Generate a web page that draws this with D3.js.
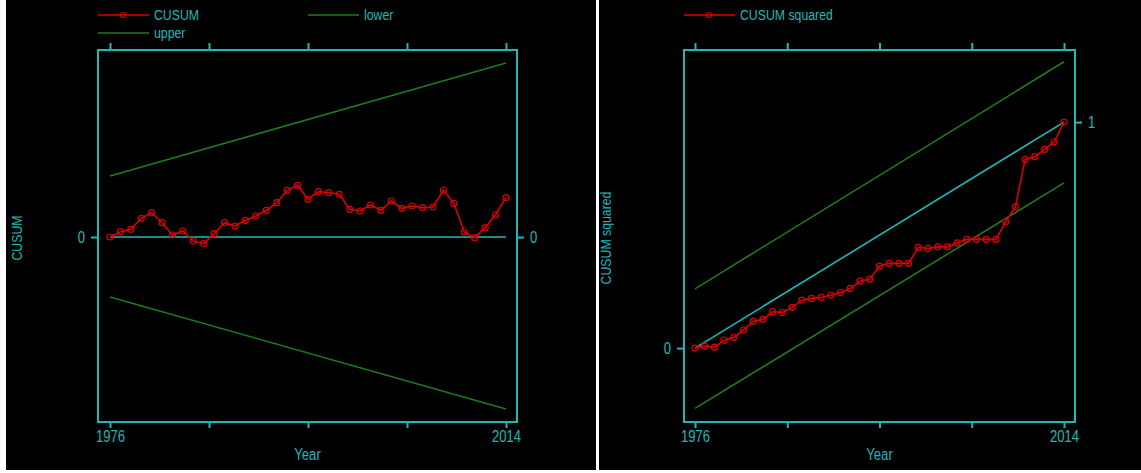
<!DOCTYPE html>
<html>
<head>
<meta charset="utf-8">
<script src="https://cdn.jsdelivr.net/npm/d3@7"></script>
<style>
  body { margin: 0; background: #fff; }
  text { font-family: "Liberation Sans", Arial, sans-serif; fill: #1fb8b8; }
</style>
</head>
<body>
<div id="chart"></div>
<script>
// Data
const years = [1976, 1977, 1978, 1979, 1980, 1981, 1982, 1983, 1984, 1985,
               1986, 1987, 1988, 1989, 1990, 1991, 1992, 1993, 1994, 1995,
               1996, 1997, 1998, 1999, 2000, 2001, 2002, 2003, 2004, 2005,
               2006, 2007, 2008, 2009, 2010, 2011, 2012, 2013, 2014];

const cusum = [0, 0.53, 0.77, 1.87, 2.43, 1.43, 0.2, 0.6, -0.4, -0.67,
               0.33, 1.43, 1.1, 1.67, 2.1, 2.67, 3.43, 4.67, 5.17, 3.77,
               4.53, 4.43, 4.27, 2.77, 2.6, 3.2, 2.67, 3.6, 2.87, 3.1,
               2.93, 3.0, 4.7, 3.37, 0.5, -0.07, 0.93, 2.2, 3.93];

const cusumSq = [0, 0.009, 0.004, 0.035, 0.047, 0.080, 0.119, 0.127, 0.161, 0.158,
                 0.180, 0.212, 0.220, 0.224, 0.235, 0.246, 0.264, 0.296, 0.305, 0.363,
                 0.375, 0.375, 0.375, 0.446, 0.441, 0.448, 0.448, 0.466, 0.481, 0.481,
                 0.481, 0.481, 0.559, 0.625, 0.835, 0.847, 0.879, 0.913, 1.0];

// straight lines: value at first and last year
const endYears = [1976, 2014];
const cusumUpper = [6.1, 17.4];
const cusumLower = [-6.0, -17.2];
const cusumZero = [0, 0];
const sqExpected = [0, 1];
const sqUpper = [0.262, 1.267];
const sqLower = [-0.267, 0.731];

const xTicks = [1976, 1985.5, 1995, 2004.5, 2014];
const xLabels = [1976, 2014];

const cyan = "#1fb8b8", red = "#dc0000", green = "#1f7a1f";
const SX = 0.82; // narrow font look

const W = 1141, H = 473;
const svg = d3.select("#chart").append("svg")
    .attr("width", W).attr("height", H);

// black panels
svg.append("rect").attr("x", 6).attr("y", 0).attr("width", 590).attr("height", 470).attr("fill", "#000");
svg.append("rect").attr("x", 599).attr("y", 0).attr("width", W - 599).attr("height", 470).attr("fill", "#000");

function panel(opt) {
    const g = svg.append("g");
    const x = d3.scaleLinear().domain([1976, 2014]).range(opt.xr);
    const y = d3.scaleLinear().domain(opt.yd).range([422, 50]);
    const f = opt.frame;

    // frame
    g.append("rect")
        .attr("x", f[0]).attr("y", 50)
        .attr("width", f[1] - f[0]).attr("height", 372)
        .attr("fill", "none").attr("stroke", cyan).attr("stroke-width", 2);

    // x axes (bottom labelled, top ticks only)
    const bottom = g.append("g").attr("transform", "translate(0,422)")
        .call(d3.axisBottom(x).tickValues(xTicks).tickSize(6).tickPadding(3)
            .tickFormat(d => xLabels.includes(d) ? d : ""));
    const top = g.append("g").attr("transform", "translate(0,50)")
        .call(d3.axisTop(x).tickValues(xTicks).tickSize(7).tickFormat(""));

    // y axes
    const left = g.append("g").attr("transform", `translate(${f[0]},0)`)
        .call(d3.axisLeft(y).tickValues(opt.leftTicks).tickSize(7).tickPadding(6).tickFormat(d => d));
    const right = g.append("g").attr("transform", `translate(${f[1]},0)`)
        .call(d3.axisRight(y).tickValues(opt.rightTicks).tickSize(7).tickPadding(6).tickFormat(d => d));

    [bottom, top, left, right].forEach(a => {
        a.select(".domain").remove();
        a.selectAll("line").attr("stroke", cyan).attr("stroke-width", 2);
        a.selectAll("text").attr("font-size", 16).style("fill", cyan)
            .style("font-family", '"Liberation Sans", Arial, sans-serif')
            .attr("x", function() { return (+d3.select(this).attr("x") || 0) / SX; })
            .attr("transform", `scale(${SX},1)`);
    });

    const line = d3.line().x(d => x(d[0])).y(d => y(d[1]));

    opt.straight.forEach(s => {
        g.append("path")
            .attr("d", line(endYears.map((yr, i) => [yr, s.v[i]])))
            .attr("fill", "none").attr("stroke", s.color).attr("stroke-width", 1.6);
    });

    const pts = years.map((yr, i) => [yr, opt.series[i]]);
    g.append("path").attr("d", line(pts))
        .attr("fill", "none").attr("stroke", red).attr("stroke-width", 1.6);
    g.selectAll(".pt").data(pts).enter().append("circle")
        .attr("cx", d => x(d[0])).attr("cy", d => y(d[1])).attr("r", 3)
        .attr("fill", "none").attr("stroke", red).attr("stroke-width", 1.2);

    // titles
    g.append("text").attr("transform", `translate(${(f[0] + f[1]) / 2},460) scale(${SX},1)`)
        .attr("text-anchor", "middle").attr("font-size", 16).text("Year");
    g.append("text").attr("transform", `translate(${opt.ytitleX},238) rotate(-90) scale(${SX},1)`)
        .attr("text-anchor", "middle").attr("font-size", 15).text(opt.ytitle);

    // legend
    opt.legend.forEach(l => {
        const lg = g.append("g").attr("transform", `translate(${l.x},${l.y})`);
        lg.append("line").attr("x1", 0).attr("x2", 51).attr("y1", 0).attr("y2", 0)
            .attr("stroke", l.color).attr("stroke-width", 1.6);
        if (l.marker) lg.append("circle").attr("cx", 25).attr("cy", 0).attr("r", 2.5)
            .attr("fill", "none").attr("stroke", l.color).attr("stroke-width", 1.2);
        lg.append("text").attr("transform", `translate(56,5) scale(${SX},1)`)
            .attr("font-size", 15).text(l.label);
    });
}

panel({
    xr: [110, 506], frame: [98, 517], yd: [-18.5, 18.7],
    leftTicks: [0], rightTicks: [0],
    series: cusum,
    straight: [{ v: cusumUpper, color: green }, { v: cusumLower, color: green }, { v: cusumZero, color: cyan }],
    ytitle: "CUSUM", ytitleX: 22,
    legend: [
        { x: 98, y: 15, color: red, marker: true, label: "CUSUM" },
        { x: 308, y: 15, color: green, label: "lower" },
        { x: 98, y: 33, color: green, label: "upper" }
    ]
});

panel({
    xr: [695, 1064], frame: [684, 1075], yd: [-0.327, 1.319],
    leftTicks: [0], rightTicks: [1],
    series: cusumSq,
    straight: [{ v: sqUpper, color: green }, { v: sqLower, color: green }, { v: sqExpected, color: cyan }],
    ytitle: "CUSUM squared", ytitleX: 611,
    legend: [
        { x: 684, y: 15, color: red, marker: true, label: "CUSUM squared" }
    ]
});
</script>
</body>
</html>
